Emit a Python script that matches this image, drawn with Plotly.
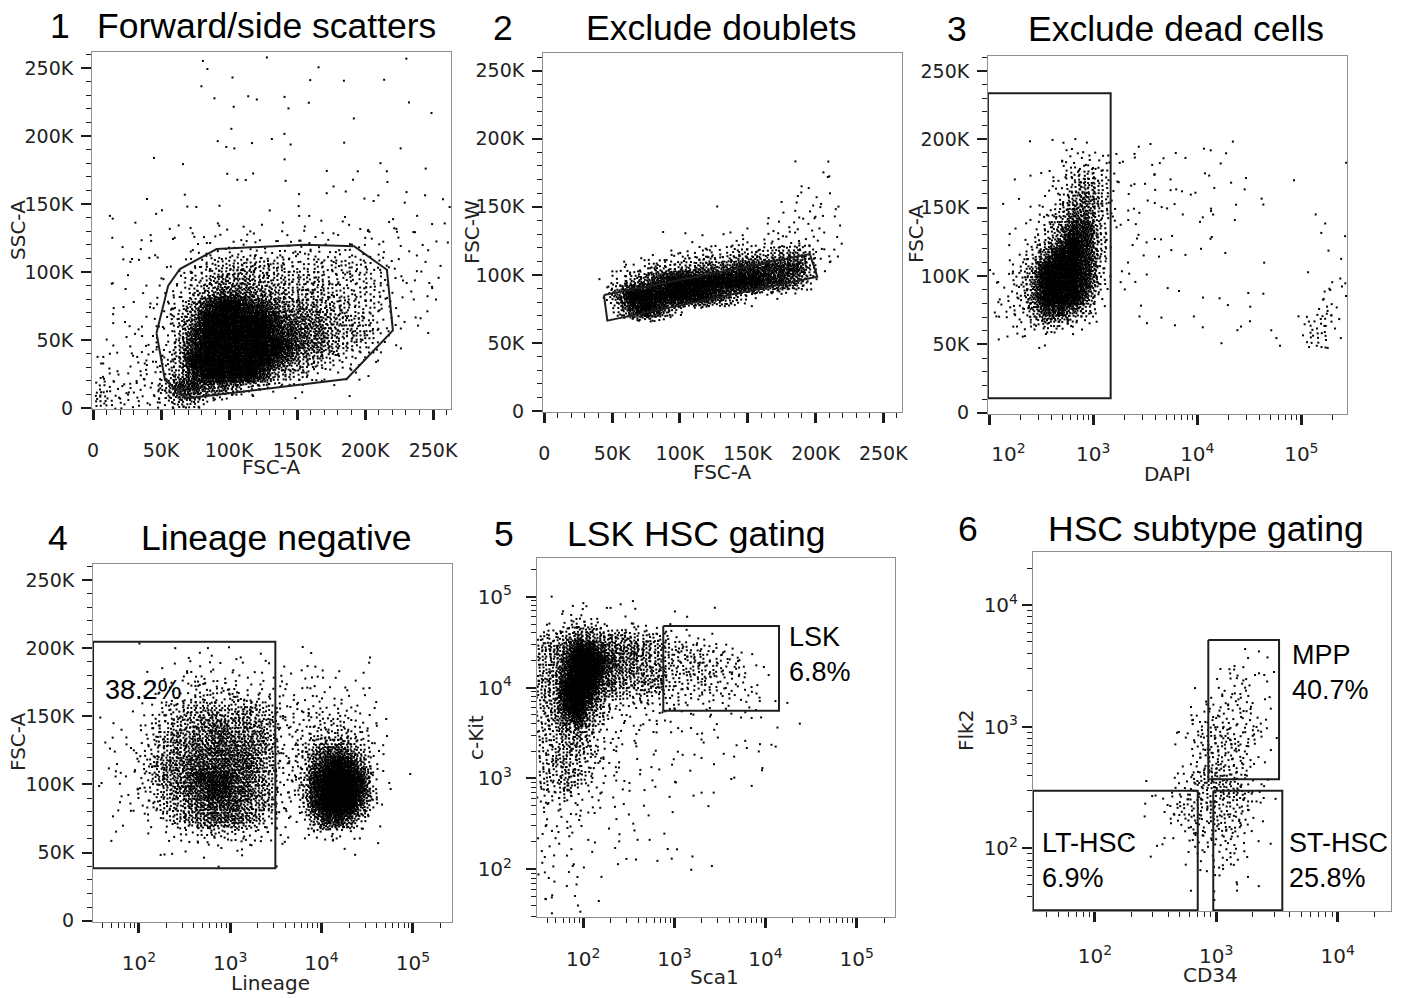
import math
import plotly.graph_objects as go

FIG_W, FIG_H = 1404, 998

# Dots drawn per bin for each density level 0-9
LEVEL_DOTS = [0, 1, 2, 5, 10, 17, 27, 42, 75, 140]

# ---------------- 1: FSC-A vs SSC-A (10K bins, top row = 250-260K) ----------------
fsc_ssc_bins = (0, 10000, 260000, 10000)  # x start, x step, y top, y step
fsc_ssc_density = [
    "00000000200010001000001000",
    "00000000001000001010000000",
    "00000001000100000000010000",
    "10000000100100101000000100",
    "00000000001000100000000010",
    "00000000010000100001000000",
    "00000000101001100010001000",
    "00001010001100100000100000",
    "00000000010010001001010010",
    "00000000001100100110010100",
    "00001001010000010111101101",
    "01000111000010010010110101",
    "01011111111111121121121111",
    "01111222222222222222212111",
    "00111112233333333333221211",
    "01111123455555444444332121",
    "01111234566655555444432111",
    "01112335677766555544432121",
    "01112346899887666554432111",
    "11122357999998777655432111",
    "11222358999998877655431101",
    "12223368999999877654321000",
    "22233469999998765433210000",
    "23233468999986543222100000",
    "43333688776432211110000000",
    "54333466210000000000000000",
]
fsc_ssc_gate_x = [46.7, 52.9, 61.5, 68.9, 186.5, 220.5, 216.1, 192.0, 155.9, 90.9, 63.9, 55.3, 46.7]
fsc_ssc_gate_y = [55.1, 20.6, 13.2, 7.1, 21.3, 57.1, 101.7, 118.9, 120.1, 116.9, 102.2, 90.0, 55.1]

# ---------------- 2: FSC-A vs FSC-W (10K bins from x=40K, top row = 180-190K) ----------------
fsc_w_bins = (40000, 10000, 190000, 10000)
fsc_w_density = [
    "0000000000000010100",
    "0000000000000000110",
    "0000000000000011110",
    "0000000000000122210",
    "0000000010001122220",
    "0000000001011232220",
    "0000101112223333220",
    "0011233444555665320",
    "0234556677888886200",
    "1467899999998874000",
    "2799999987532000000",
    "0589852000000000000",
]
fsc_w_gate_x = [44.0, 46.5, 201.3, 195.9, 44.0]
fsc_w_gate_y = [85.2, 66.4, 98.7, 115.3, 85.2]

# ---------------- 3: DAPI (log10 bins of 0.125 from 2.0) vs FSC-A ----------------
dapi_bins = (2.0, 0.125, 200000, 10000)
dapi_density = [
    "0001112210111010111000000000",
    "0000123331111101100000000001",
    "0100124542112110111100010000",
    "0010235652211111110100000001",
    "0011246752121111011010000001",
    "0102357752121110110001000100",
    "0112468852111101101000000201",
    "0113579852111110110000000100",
    "0124799851101101101000000001",
    "1236999841101000000001001002",
    "2247999841100100000000000112",
    "2347999731010010110011000222",
    "2346887520010101001100001321",
    "1234543100010000100110002432",
    "1112111000000100011002103421",
    "0000000000000000000000001100",
]
dapi_gate_x = [97, 1468]
dapi_gate_y = [10.5, 233.6]

# ---------------- 4: Lineage (log10 bins of 0.125 from 1.5) vs FSC-A ----------------
lin_bins = (1.5, 0.125, 200000, 10000)
lin_density = [
    "0000100210202010110100001000",
    "0000111222222221111211011000",
    "0001012233333222222212111000",
    "0000122334434333222222211000",
    "1001124455555554333333221010",
    "1010244556666655333344332100",
    "1112245666776665333445432100",
    "1122345667777765334677652100",
    "0122356677777765334789863100",
    "1122356678887765335899983101",
    "1112345677887765335899984110",
    "0112245567777665324899973100",
    "0111224566777654223688742000",
    "0010112334444332212333221000",
    "0010011122222211110011100000",
    "0000000000101001000000100000",
]
lin_gate_x = [31.5, 3120]
lin_gate_y = [38.4, 204.7]
lin_neg_pct = 38.2

# ---------------- 5: Sca1 vs c-Kit (log10 bins of 0.125 from 1.5; top row = 4.875-5.0) ----------------
lsk_bins = (1.5, 0.125, 5.0, 0.125)
lsk_density = [
    "101010011000000000000000",
    "011221111000100100000000",
    "223443222211100000000000",
    "445665554443221100000000",
    "556887666554433321000000",
    "557998766554444333210000",
    "557998665554444433210000",
    "558997655554434333210000",
    "558986554443333332321000",
    "458975333323322222210100",
    "457864322221111111110000",
    "446653222121111110011010",
    "445543221111111010111000",
    "445543211111111101110100",
    "445433211111101010010000",
    "445442211111010101010000",
    "435432111110101010100000",
    "334322111101010100000000",
    "322221111101001000000000",
    "222211101010000000000000",
    "222111101010000000000000",
    "221111011101100000000000",
    "211110100000110000000000",
    "211110111010000100000000",
    "211101000000010000000000",
    "111100000000000000000000",
    "111110000000000000000000",
    "110100000000000000000000",
]
lsk_gate_x = [755, 14060]
lsk_gate_y = [5550, 47600]
lsk_pct = 6.8

# ---------------- 6: CD34 vs Flk2 (log10 bins of 0.1 from 2.0; top row = 3.7-3.8) ----------------
hsc_bins = (2.0, 0.1, 3.8, 0.1)
hsc_density = [
    "0000000000000000",
    "0000000000001100",
    "0000000000111100",
    "0000000000131110",
    "0000000001113110",
    "0000000011333110",
    "0000000113333110",
    "0000001133333300",
    "0000001134433310",
    "0000001134443110",
    "0000000134433110",
    "0000001134443100",
    "0000101345543110",
    "0000113344553310",
    "0001003444443100",
    "0000103334433100",
    "0001001333433100",
    "0000011133331010",
    "0000110111331000",
    "0000000111311000",
    "0000000011110100",
    "0000000100111000",
    "0000000000110000",
]
mpp_gate_x, mpp_gate_y = [859, 3290], [370, 5150]
lt_gate_x, lt_gate_y = [30.8, 703], [31, 297]
st_gate_x, st_gate_y = [944, 3500], [31, 297]
mpp_pct, lt_pct, st_pct = 40.7, 6.9, 25.8

# Axis tick values / labels
lin_ticks = [0, 50000, 100000, 150000, 200000, 250000]
lin_labels = ["0", "50K", "100K", "150K", "200K", "250K"]
lin_minor = list(range(0, 261000, 10000))

# ---------------- rendering helpers ----------------
R2_A, R2_B = 0.7548776662466927, 0.5698402909980532


def cell_start(r, c, salt):
    h = ((r + 1) * 73856093) ^ ((c + 1) * 19349663) ^ (salt * 83492791)
    h = (h * 2654435761) & 0xFFFFFFFF
    h ^= h >> 15
    h = (h * 2246822519) & 0xFFFFFFFF
    h ^= h >> 13
    return (h & 0xFFFF) / 65536.0, ((h >> 16) & 0xFFFF) / 65536.0


def tent(u):
    """Map an even 0-1 spread onto a tent profile one bin wide on each side of the bin centre."""
    return -1 + math.sqrt(2 * u) if u < 0.5 else 1 - math.sqrt(2 * (1 - u))


def stipple(rows, bins, salt, log_x=False, log_y=False):
    """Dot-density rendering of a binned density grid."""
    x0, dx, ytop, dy = bins
    xs, ys = [], []
    for r, row in enumerate(rows):
        for c, ch in enumerate(row):
            n = LEVEL_DOTS[int(ch)]
            if not n:
                continue
            su, sv = cell_start(r, c, salt)
            for k in range(n):
                u = (su + k * R2_A) % 1.0
                v = (sv + k * R2_B) % 1.0
                x = x0 + (c + 0.5 + tent(u)) * dx
                y = ytop - (r + 0.5 + tent(v)) * dy
                xs.append(10 ** x if log_x else x)
                ys.append(10 ** y if log_y else y)
    return xs, ys


def rect(xr, yr):
    return [xr[0], xr[1], xr[1], xr[0], xr[0]], [yr[1], yr[1], yr[0], yr[0], yr[1]]


def px_x(p):
    return p / FIG_W


def px_y(p):
    return 1 - p / FIG_H


AX_LINE = "#8f8f8f"
TICK_C = "#1b1b1b"
TICK_FONT = dict(family="DejaVu Sans, Verdana, sans-serif", size=19, color="#222222")
LOG_TICK_FONT = dict(family="DejaVu Sans, Verdana, sans-serif", size=20, color="#222222")
LABEL_FONT = dict(family="DejaVu Sans, Verdana, sans-serif", size=20, color="#222222")
TITLE_FONT = dict(family="Liberation Sans, Arial, sans-serif", size=35.5, color="black")
GATE_FONT = dict(family="Liberation Sans, Arial, sans-serif", size=27, color="black")


def base_axis(domain, anchor, major_w, standoff):
    return dict(domain=domain, anchor=anchor, automargin=False, showgrid=False,
                zeroline=False, showline=True, mirror=True, linecolor=AX_LINE, linewidth=1,
                ticks="outside", ticklen=10, tickwidth=major_w, tickcolor=TICK_C,
                tickfont=TICK_FONT, ticklabelstandoff=standoff, fixedrange=True)


def lin_axis(domain, anchor, rng, major_w, standoff):
    ax = base_axis(domain, anchor, major_w, standoff)
    ax.update(type="linear", range=rng, tickmode="array", tickvals=lin_ticks,
              ticktext=lin_labels,
              minor=dict(ticks="outside", ticklen=5, tickwidth=1, tickcolor=TICK_C,
                         tickmode="array", tickvals=lin_minor))
    return ax


def log_axis(domain, anchor, rng, decades, major_w, standoff, first_pad=0):
    ax = base_axis(domain, anchor, major_w, standoff)
    minor = [k * 10 ** d for d in range(1, 6) for k in range(2, 10)
             if rng[0] <= math.log10(k * 10 ** d) <= rng[1]]
    labels = [f"10<sup>{d}</sup>" for d in decades]
    labels[0] = "&nbsp;" * first_pad + labels[0]
    ax.update(type="log", range=rng, tickmode="array",
              tickvals=[10 ** d for d in decades], ticktext=labels,
              tickfont=LOG_TICK_FONT,
              minor=dict(ticks="outside", ticklen=5, tickwidth=1.3, tickcolor=TICK_C,
                         tickmode="array", tickvals=minor))
    return ax


# frames in pixels: left, right, top, bottom
FRAMES = {
    1: (92, 451, 52, 409),
    2: (543, 902, 53, 412),
    3: (988, 1347, 56, 414),
    4: (93, 452, 564, 922),
    5: (537, 895, 558, 917),
    6: (1033, 1391, 552, 911),
}


def dom(i):
    l, r, t, b = FRAMES[i]
    return [px_x(l), px_x(r)], [px_y(b), px_y(t)]


fig = go.Figure()
DOT = dict(size=2, color="black", symbol="square", line=dict(width=0))
GATE_LINE = dict(color="#1e1e1e", width=2)


def add_dots(xs, ys, i):
    sfx = "" if i == 1 else str(i)
    fig.add_trace(go.Scatter(x=xs, y=ys, mode="markers", marker=DOT, hoverinfo="skip",
                             xaxis="x" + sfx, yaxis="y" + sfx, showlegend=False))


def add_gate(xs, ys, i):
    sfx = "" if i == 1 else str(i)
    fig.add_trace(go.Scatter(x=xs, y=ys, mode="lines", line=GATE_LINE, hoverinfo="skip",
                             xaxis="x" + sfx, yaxis="y" + sfx, showlegend=False))


# 1
xs, ys = stipple(fsc_ssc_density, fsc_ssc_bins, 1)
add_dots(xs, ys, 1)
add_gate([v * 1000 for v in fsc_ssc_gate_x], [v * 1000 for v in fsc_ssc_gate_y], 1)
# 2
xs, ys = stipple(fsc_w_density, fsc_w_bins, 2)
add_dots(xs, ys, 2)
add_gate([v * 1000 for v in fsc_w_gate_x], [v * 1000 for v in fsc_w_gate_y], 2)
# 3
xs, ys = stipple(dapi_density, dapi_bins, 3, log_x=True)
add_dots(xs, ys, 3)
gx, gy = rect(dapi_gate_x, [v * 1000 for v in dapi_gate_y])
add_gate(gx, gy, 3)
# 4
xs, ys = stipple(lin_density, lin_bins, 4, log_x=True)
add_dots(xs, ys, 4)
gx, gy = rect(lin_gate_x, [v * 1000 for v in lin_gate_y])
add_gate(gx, gy, 4)
# 5
xs, ys = stipple(lsk_density, lsk_bins, 5, log_x=True, log_y=True)
add_dots(xs, ys, 5)
gx, gy = rect(lsk_gate_x, lsk_gate_y)
add_gate(gx, gy, 5)
# 6
xs, ys = stipple(hsc_density, hsc_bins, 6, log_x=True, log_y=True)
add_dots(xs, ys, 6)
for gxr, gyr in [(mpp_gate_x, mpp_gate_y), (lt_gate_x, lt_gate_y), (st_gate_x, st_gate_y)]:
    gx, gy = rect(gxr, gyr)
    add_gate(gx, gy, 6)

layout = dict(template="none", width=FIG_W, height=FIG_H,
              margin=dict(l=0, r=0, t=0, b=0, pad=0, autoexpand=False),
              paper_bgcolor="white", plot_bgcolor="white", showlegend=False)

d = {i: dom(i) for i in FRAMES}
layout["xaxis"] = lin_axis(d[1][0], "y", [-735, 263235], 3, 14)
layout["yaxis"] = lin_axis(d[1][1], "x", [-735, 261765], 2, 4)
layout["xaxis2"] = lin_axis(d[2][0], "y2", [-960, 263800], 3, 14)
layout["yaxis2"] = lin_axis(d[2][1], "x2", [-735, 263000], 2, 4)
layout["xaxis3"] = log_axis(d[3][0], "y3", [1.9875, 5.439], [2, 3, 4, 5], 3, 12, first_pad=6)
layout["yaxis3"] = lin_axis(d[3][1], "x3", [-950, 260900], 2, 4)
layout["xaxis4"] = log_axis(d[4][0], "y4", [1.498, 5.428], [2, 3, 4, 5], 3, 13)
layout["yaxis4"] = lin_axis(d[4][1], "x4", [-950, 261700], 2, 4)
layout["xaxis5"] = log_axis(d[5][0], "y5", [1.492, 5.421], [2, 3, 4, 5], 3, 14)
layout["yaxis5"] = log_axis(d[5][1], "x5", [1.475, 5.426], [2, 3, 4, 5], 2, 10)
layout["xaxis6"] = log_axis(d[6][0], "y6", [1.489, 4.44], [2, 3, 4], 3, 17)
layout["yaxis6"] = log_axis(d[6][1], "x6", [1.485, 4.436], [2, 3, 4], 2, 0)

ann = []


def text_at(txt, x, y, font, xanchor="center", angle=0, align="center"):
    ann.append(dict(text=txt, x=px_x(x), y=px_y(y), xref="paper", yref="paper",
                    xanchor=xanchor, yanchor="middle", showarrow=False, font=font,
                    textangle=angle, align=align))


# panel titles
for num, title, nx, tx, ty in [
    ("1", "Forward/side scatters", 60, 266.5, 26),
    ("2", "Exclude doublets", 503, 721, 27.5),
    ("3", "Exclude dead cells", 957.5, 1176, 29),
    ("4", "Lineage negative", 58, 276, 537.5),
    ("5", "LSK HSC gating", 504, 696, 534),
    ("6", "HSC subtype gating", 967.5, 1206, 529),
]:
    text_at(num, nx, ty, TITLE_FONT)
    text_at(title, tx, ty, TITLE_FONT)

# axis titles
for txt, x, y, ang in [
    ("FSC-A", 271, 467, 0), ("SSC-A", 18, 230, -90),
    ("FSC-A", 722, 472, 0), ("FSC-W", 472, 232, -90),
    ("DAPI", 1167, 474, 0), ("FSC-A", 916, 234, -90),
    ("Lineage", 270, 983, 0), ("FSC-A", 18, 742, -90),
    ("Sca1", 714, 977, 0), ("c-Kit", 476, 738, -90),
    ("CD34", 1210, 975, 0), ("Flk2", 966, 731, -90),
]:
    text_at(txt, x, y, LABEL_FONT, angle=ang)

# gate frequencies
text_at(f"{lin_neg_pct}%", 103, 690, GATE_FONT, xanchor="left", align="left")
text_at(f"LSK<br>{lsk_pct}%", 787, 654, GATE_FONT, xanchor="left", align="left")
text_at(f"MPP<br>{mpp_pct}%", 1290, 672.5, GATE_FONT, xanchor="left", align="left")
text_at(f"LT-HSC<br>{lt_pct}%", 1040, 860, GATE_FONT, xanchor="left", align="left")
text_at(f"ST-HSC<br>{st_pct}%", 1287, 860, GATE_FONT, xanchor="left", align="left")

layout["annotations"] = ann
fig.update_layout(**layout)
fig.write_html("out.html",
               post_script="document.body.style.margin='0px';document.body.style.overflow='hidden';")
